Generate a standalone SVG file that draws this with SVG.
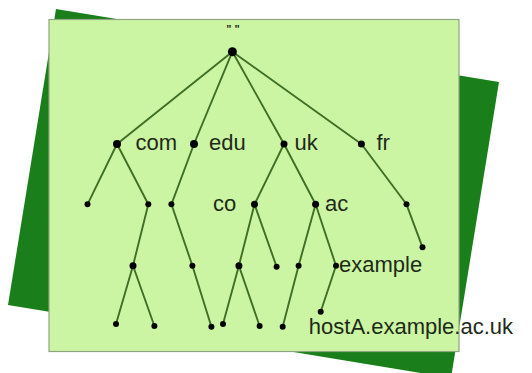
<svg xmlns="http://www.w3.org/2000/svg" width="532" height="373" viewBox="0 0 532 373">
<style>
.lbl{font-family:"Liberation Sans",Arial,sans-serif;font-size:22px;fill:#1d2a18}
.q{font-family:"Liberation Sans",Arial,sans-serif;font-size:11px;fill:#1d2a18;font-weight:bold}
.e{stroke:#3f6f26;stroke-width:1.9;fill:none;stroke-linecap:round}
.n{fill:#000}
</style>
<rect width="532" height="373" fill="#ffffff"/>
<polygon id="shadow" points="56,9 499,82 451,378 8,305" fill="#1a7f1a"/>
<rect id="card" x="49" y="19.5" width="410" height="332" fill="#ccf5a3" stroke="#8fa480" stroke-width="1.2"/>
<g id="connectors">
<line class="e" x1="232.4" y1="51.7" x2="117" y2="144"/>
<line class="e" x1="232.4" y1="51.7" x2="194" y2="144"/>
<line class="e" x1="232.4" y1="51.7" x2="284" y2="144"/>
<line class="e" x1="232.4" y1="51.7" x2="361.4" y2="144"/>
<line class="e" x1="117" y1="144" x2="87.5" y2="204.3"/>
<line class="e" x1="117" y1="144" x2="148.3" y2="204.3"/>
<line class="e" x1="148.3" y1="204.3" x2="133" y2="265.7"/>
<line class="e" x1="133" y1="265.7" x2="116" y2="324"/>
<line class="e" x1="133" y1="265.7" x2="154.4" y2="326"/>
<line class="e" x1="194" y1="144" x2="171.4" y2="204.3"/>
<line class="e" x1="171.4" y1="204.3" x2="192.4" y2="265.7"/>
<line class="e" x1="192.4" y1="265.7" x2="211.4" y2="326.7"/>
<line class="e" x1="284" y1="144" x2="254.5" y2="204.3"/>
<line class="e" x1="284" y1="144" x2="315.6" y2="204.3"/>
<line class="e" x1="254.5" y1="204.3" x2="238.9" y2="265.7"/>
<line class="e" x1="254.5" y1="204.3" x2="276.6" y2="266.7"/>
<line class="e" x1="238.9" y1="265.7" x2="223" y2="324"/>
<line class="e" x1="238.9" y1="265.7" x2="259.6" y2="326"/>
<line class="e" x1="315.6" y1="204.3" x2="298.6" y2="265.7"/>
<line class="e" x1="315.6" y1="204.3" x2="336" y2="265.7"/>
<line class="e" x1="298.6" y1="265.7" x2="282.7" y2="326.7"/>
<line class="e" x1="336" y1="265.7" x2="320.7" y2="311.7"/>
<line class="e" x1="361.4" y1="144" x2="406.5" y2="204.3"/>
<line class="e" x1="406.5" y1="204.3" x2="422.5" y2="247.3"/>
</g>
<g id="root"><circle class="n" cx="232.4" cy="51.7" r="4.5"/><text class="q" x="233" y="33" text-anchor="middle">" "</text></g>
<g id="com"><circle class="n" cx="117" cy="144" r="4"/><text class="lbl" x="135.5" y="149.5">com</text></g>
<g id="edu"><circle class="n" cx="194" cy="144" r="4"/><text class="lbl" x="209" y="149.5">edu</text></g>
<g id="uk"><circle class="n" cx="284" cy="144" r="3.5"/><text class="lbl" x="294.5" y="149.5">uk</text></g>
<g id="fr"><circle class="n" cx="361.4" cy="144" r="3.5"/><text class="lbl" x="376.5" y="149.5">fr</text></g>
<g id="n2a"><circle class="n" cx="87.5" cy="204.3" r="3"/></g>
<g id="n2b"><circle class="n" cx="148.3" cy="204.3" r="3"/></g>
<g id="n2c"><circle class="n" cx="171.4" cy="204.3" r="3"/></g>
<g id="co"><circle class="n" cx="254.5" cy="204.3" r="3.5"/><text class="lbl" x="213" y="211">co</text></g>
<g id="ac"><circle class="n" cx="315.6" cy="204.3" r="3.5"/><text class="lbl" x="325" y="211">ac</text></g>
<g id="n2f"><circle class="n" cx="406.5" cy="204.3" r="3"/></g>
<g id="n25"><circle class="n" cx="422.5" cy="247.3" r="3"/></g>
<g id="n3a"><circle class="n" cx="133" cy="265.7" r="3.5"/></g>
<g id="n3b"><circle class="n" cx="192.4" cy="265.7" r="3"/></g>
<g id="n3c"><circle class="n" cx="238.9" cy="265.7" r="3.5"/></g>
<g id="n3d"><circle class="n" cx="276.6" cy="266.7" r="3"/></g>
<g id="n3e"><circle class="n" cx="298.6" cy="265.7" r="3"/></g>
<g id="example"><circle class="n" cx="336" cy="265.7" r="3"/><text class="lbl" x="339" y="272">example</text></g>
<g id="hostA"><circle class="n" cx="320.7" cy="311.7" r="3"/><text class="lbl" x="308.8" y="334" font-size="23.5">hostA.example.ac.uk</text></g>
<g id="n4a"><circle class="n" cx="116" cy="324" r="3"/></g>
<g id="n4b"><circle class="n" cx="154.4" cy="326" r="3"/></g>
<g id="n4c"><circle class="n" cx="211.4" cy="326.7" r="3"/></g>
<g id="n4d"><circle class="n" cx="223" cy="324" r="3"/></g>
<g id="n4e"><circle class="n" cx="259.6" cy="326" r="3"/></g>
<g id="n4f"><circle class="n" cx="282.7" cy="326.7" r="3"/></g>
</svg>
